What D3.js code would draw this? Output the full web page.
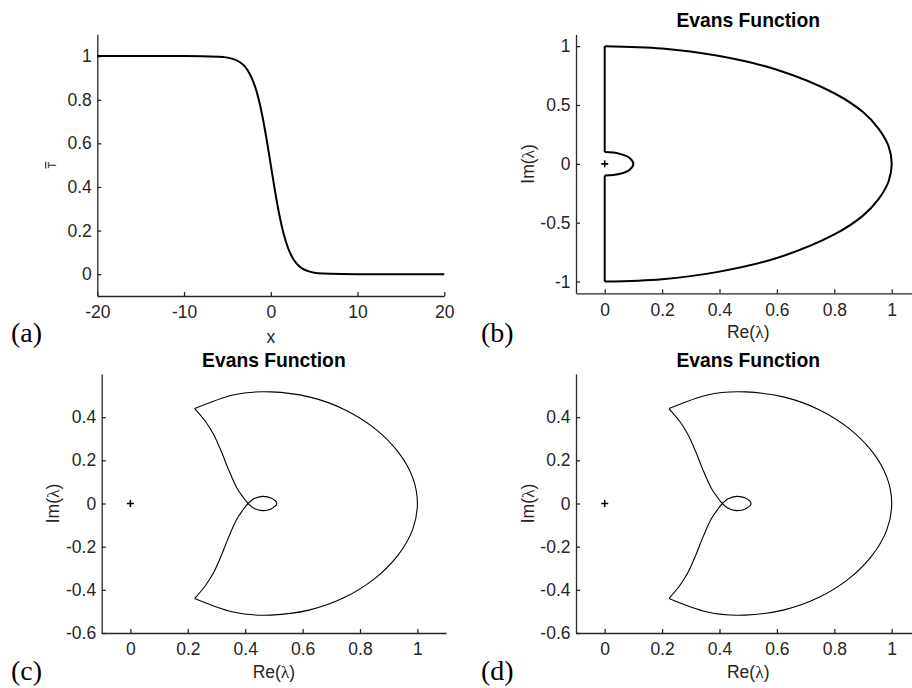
<!DOCTYPE html>
<html>
<head>
<meta charset="utf-8">
<script src="https://cdn.jsdelivr.net/npm/d3@7"></script>
<style>
  body { margin: 0; background: #fff; }
  svg { display: block; font-family: "Liberation Sans", Arial, sans-serif; }
  .tick text { font-size: 17.5px; fill: #262626; }
  .domain, .tick line { stroke: #262626; stroke-width: 1.3px; }
</style>
</head>
<body>
<script>
// (a) wave profile T-bar against x
const waveX = [-20, -10, -6, -5, -4.3, -3.6, -3.0, -2.5, -2.0, -1.5, -1.0, -0.5, 0,
  0.5, 1.0, 1.5, 2.0, 2.5, 3.0, 3.6, 4.3, 5, 6, 10, 20];
const waveT = [1, 1, 0.997, 0.993, 0.986, 0.973, 0.953, 0.924, 0.881, 0.818, 0.731, 0.622, 0.5,
  0.378, 0.269, 0.182, 0.119, 0.076, 0.047, 0.027, 0.014, 0.007, 0.003, 0, 0];
const waveXTicks = [-20, -10, 0, 10, 20];
const waveYTicks = [0, 0.2, 0.4, 0.6, 0.8, 1];

// (b) contour: two straight pieces on the imaginary axis, small bump, big arc
const bLineTopRe = [0, 0];
const bLineTopIm = [1, 0.1];
const bBumpRe = [0, 0.05, 0.087, 0.1, 0.087, 0.05, 0];
const bBumpIm = [0.1, 0.087, 0.05, 0, -0.05, -0.087, -0.1];
const bLineBotRe = [0, 0];
const bLineBotIm = [-0.1, -1];
const bArcRe = [0, 0.2, 0.39, 0.6, 0.8, 0.9, 0.954, 0.989, 1, 0.989, 0.954, 0.9, 0.8, 0.6, 0.39, 0.2, 0];
const bArcIm = [-1, -0.98, -0.92, -0.8, -0.6, -0.44, -0.3, -0.15, 0, 0.15, 0.3, 0.44, 0.6, 0.8, 0.92, 0.98, 1];
const bXTicks = [0, 0.2, 0.4, 0.6, 0.8, 1];
const bYTicks = [-1, -0.5, 0, 0.5, 1];

// (c) and (d) Evans function image: outer arc (cusp to cusp) and inner path with loop
const evOuterRe = [0.224, 0.358, 0.49, 0.622, 0.745, 0.851, 0.932, 0.983, 1.0,
  0.983, 0.932, 0.851, 0.745, 0.622, 0.49, 0.358, 0.224];
const evOuterIm = [0.44, 0.503, 0.517, 0.494, 0.436, 0.348, 0.24, 0.122, 0,
  -0.122, -0.24, -0.348, -0.436, -0.494, -0.517, -0.503, -0.44];
const evInnerRe = [0.224, 0.261, 0.29, 0.319, 0.342, 0.371, 0.392, 0.41, 0.43, 0.46, 0.49, 0.51,
  0.49, 0.46, 0.43, 0.41, 0.392, 0.371, 0.342, 0.319, 0.29, 0.261, 0.224];
const evInnerIm = [-0.44, -0.381, -0.32, -0.234, -0.157, -0.072, -0.03, 0, 0.022, 0.033, 0.025, 0,
  -0.025, -0.033, -0.022, 0, 0.03, 0.072, 0.157, 0.234, 0.32, 0.381, 0.44];
const evXTicks = [0, 0.2, 0.4, 0.6, 0.8, 1];
const evYTicks = [-0.6, -0.4, -0.2, 0, 0.2, 0.4];

const w = 912;
const h = 688;

const svg = d3.select("body").append("svg").attr("width", w).attr("height", h);
svg.append("rect").attr("width", w).attr("height", h).attr("fill", "#fff");

const zip = (a, b) => a.map((v, i) => [v, b[i]]);
const plainNum = (d) => String(d); // hyphen minus like the original

const drawPanel = (cfg) => {
  const g = svg.append("g");
  const x = d3.scaleLinear().domain(cfg.xDomain).range([cfg.left, cfg.right]);
  const y = d3.scaleLinear().domain(cfg.yDomain).range([cfg.bottom, cfg.top]);

  g.append("g")
    .attr("transform", `translate(0, ${cfg.bottom})`)
    .call(d3.axisBottom(x).tickValues(cfg.xTicks).tickFormat(plainNum).tickSizeInner(-4).tickSizeOuter(0).tickPadding(10));
  g.append("g")
    .attr("transform", `translate(${cfg.left}, 0)`)
    .call(d3.axisLeft(y).tickValues(cfg.yTicks).tickFormat(plainNum).tickSizeInner(-4).tickSizeOuter(0).tickPadding(5.5));
  g.selectAll(".tick text").style("font-family", "'Liberation Sans', Arial, sans-serif");

  cfg.pieces.forEach((p) => {
    const line = d3.line()
      .x((d) => x(d[0]))
      .y((d) => y(d[1]))
      .curve(p.curve || d3.curveCatmullRom.alpha(0.5));
    g.append("path")
      .attr("d", line(p.pts))
      .attr("fill", "none")
      .attr("stroke", "#000")
      .attr("stroke-width", cfg.lineWidth)
      .attr("stroke-linejoin", "round");
  });

  if (cfg.marker) {
    const cx = x(0), cy = y(0);
    g.append("path")
      .attr("d", `M${cx - 3.5},${cy}h7M${cx},${cy - 3.5}v7`)
      .attr("stroke", "#000")
      .attr("stroke-width", 1.6);
  }

  if (cfg.title) {
    g.append("text")
      .attr("x", (cfg.left + cfg.right) / 2)
      .attr("y", cfg.top - 7)
      .attr("text-anchor", "middle")
      .attr("font-size", "19.3px")
      .attr("font-weight", "bold")
      .attr("fill", "#000")
      .text(cfg.title);
  }

  // x label
  const xl = g.append("text")
    .attr("x", (cfg.left + cfg.right) / 2)
    .attr("y", cfg.bottom + cfg.xLabelOffset)
    .attr("dy", "0.35em")
    .attr("text-anchor", "middle")
    .attr("font-size", "17.5px")
    .attr("fill", "#262626");
  if (cfg.xLabel === "Re") {
    xl.append("tspan").text("Re(");
    xl.append("tspan").attr("font-family", "'Liberation Serif', serif").text("λ");
    xl.append("tspan").text(")");
  } else {
    xl.text(cfg.xLabel);
  }

  // y label
  const yl = g.append("text")
    .attr("transform", `translate(${cfg.left - cfg.yLabelOffset}, ${(cfg.top + cfg.bottom) / 2}) rotate(-90)`)
    .attr("dy", "0.35em")
    .attr("text-anchor", "middle")
    .attr("fill", "#262626");
  if (cfg.yLabel === "Im") {
    yl.attr("font-size", "17.5px");
    yl.append("tspan").text("Im(");
    yl.append("tspan").attr("font-family", "'Liberation Serif', serif").text("λ");
    yl.append("tspan").text(")");
  } else {
    yl.attr("font-size", "11px").style("text-decoration", "overline").text(cfg.yLabel);
  }

  // panel letter
  svg.append("text")
    .attr("x", cfg.tagX)
    .attr("y", cfg.tagY)
    .attr("font-family", "'Liberation Serif', 'Times New Roman', serif")
    .attr("font-size", "28px")
    .attr("fill", "#000")
    .text(cfg.tag);
};

drawPanel({
  left: 97.3, right: 444.3, top: 34.3, bottom: 296,
  xDomain: [-20, 20], yDomain: [-0.1, 1.1],
  xTicks: waveXTicks, yTicks: waveYTicks,
  pieces: [{ pts: zip(waveX, waveT), curve: d3.curveMonotoneX }],
  lineWidth: 2,
  xLabel: "x", yLabel: "T", xLabelOffset: 40.5, yLabelOffset: 45,
  tag: "(a)", tagX: 11, tagY: 341.5,
});

drawPanel({
  left: 576, right: 920.4, top: 34.4, bottom: 293.3,
  xDomain: [-0.1, 1.1], yDomain: [-1.1, 1.1],
  xTicks: bXTicks, yTicks: bYTicks,
  pieces: [
    { pts: zip(bLineTopRe, bLineTopIm), curve: d3.curveLinear },
    { pts: zip(bBumpRe, bBumpIm) },
    { pts: zip(bLineBotRe, bLineBotIm), curve: d3.curveLinear },
    { pts: zip(bArcRe, bArcIm) },
  ],
  lineWidth: 2, marker: true,
  title: "Evans Function",
  xLabel: "Re", yLabel: "Im", xLabelOffset: 38.5, yLabelOffset: 48.5,
  tag: "(b)", tagX: 481, tagY: 341.5,
});

[["(c)", 101.7, 11], ["(d)", 576, 481]].forEach(([tag, left, tagX]) => {
  drawPanel({
    left: left, right: left + 344.4, top: 374, bottom: 633,
    xDomain: [-0.1, 1.1], yDomain: [-0.6, 0.6],
    xTicks: evXTicks, yTicks: evYTicks,
    pieces: [
      { pts: zip(evOuterRe, evOuterIm), curve: d3.curveNatural },
      { pts: zip(evInnerRe, evInnerIm) },
    ],
    lineWidth: 1.1, marker: true,
    title: "Evans Function",
    xLabel: "Re", yLabel: "Im", xLabelOffset: 38.5, yLabelOffset: 48.5,
    tag: tag, tagX: tagX, tagY: 679.5,
  });
});
</script>
</body>
</html>
